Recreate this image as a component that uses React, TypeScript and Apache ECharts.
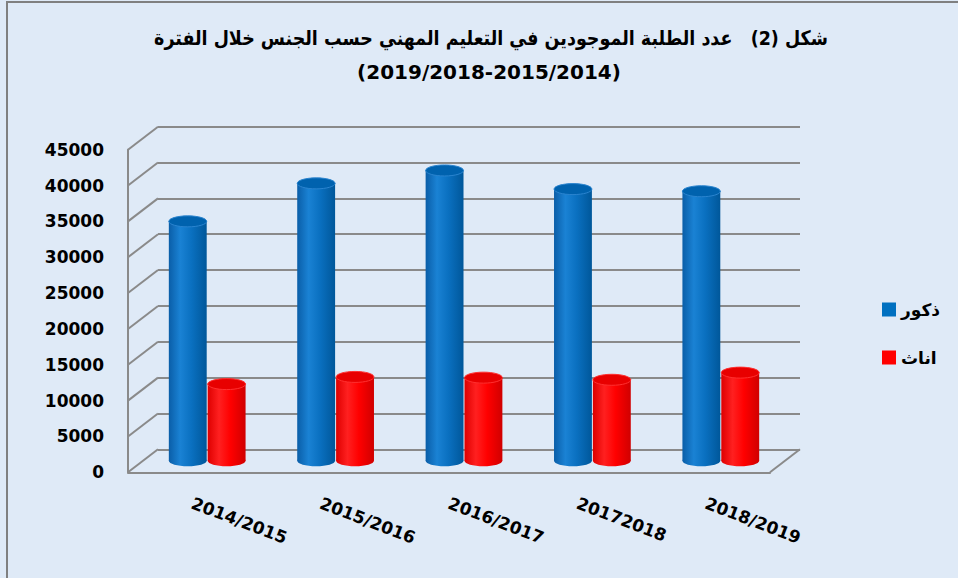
import React, { useEffect, useRef } from "react";
import * as echarts from "echarts";

// ---- data ----
const categories = ["2014/2015", "2015/2016", "2016/2017", "20172018", "2018/2019"];
const maleValues = [33400, 38700, 40500, 37900, 37600];
const femaleValues = [10700, 11700, 11600, 11300, 12300];
const seriesNames = ["ذكور", "اناث"];
const yTicks = [0, 5000, 10000, 15000, 20000, 25000, 30000, 35000, 40000, 45000];
const titleLine1 = "شكل (2)   عدد الطلبة الموجودين في التعليم المهني حسب الجنس خلال الفترة";
const titleLine2 = "(2019/2018-2015/2014)";

// ---- layout ----
const W = 958;
const H = 578;
const MID_LEFT = 143;
const MID_TOP = 138.2;
const PLOT_W = 642;
const PLOT_H = 322.6;
const DX = 15;
const DY = 11.5;
const FONT = '"DejaVu Sans", "Liberation Sans", Arial, sans-serif';
const GRID_COLOR = "#8a8a8a";

function cylinder(side: number, body: string[], topFill: string, topStroke: string) {
  return (params: any, api: any) => {
    const idx = api.value(0);
    const val = api.value(1);
    const top = api.coord([idx, val]);
    const base = api.coord([idx, 0]);
    const band = api.size([1, 0])[0];
    const w = band * 0.295;
    const cx = top[0] + side * (w / 2 + 0.5);
    const rx = w / 2;
    const ry = 5.5;
    const grad = () =>
      new echarts.graphic.LinearGradient(0, 0, 1, 0, [
        { offset: 0, color: body[0] },
        { offset: 0.3, color: body[1] },
        { offset: 0.6, color: body[2] },
        { offset: 1, color: body[3] },
      ]);
    return {
      type: "group",
      children: [
        { type: "ellipse", shape: { cx, cy: base[1], rx, ry }, style: { fill: grad() } },
        { type: "rect", shape: { x: cx - rx, y: top[1], width: w, height: base[1] - top[1] }, style: { fill: grad() } },
        { type: "ellipse", shape: { cx, cy: top[1], rx, ry }, style: { fill: topFill, stroke: topStroke, lineWidth: 1 } },
      ],
    };
  };
}

export default function App() {
  const ref = useRef<HTMLDivElement>(null);
  useEffect(() => {
    if (!ref.current) return;
    const chart = echarts.init(ref.current, null, { renderer: "svg" });
    const gridBase = { width: PLOT_W, height: PLOT_H, containLabel: false };
    const yBase = { type: "value", min: 0, max: 45000, interval: 5000 };
    const option: any = {
      animation: false,
      backgroundColor: "#dfeaf7",
      graphic: [
        {
          type: "rect",
          shape: { x: 7, y: 2, width: 1000, height: 700 },
          style: { fill: "none", stroke: "#808080", lineWidth: 2 },
          silent: true,
        },
        {
          type: "text",
          x: 491,
          y: 38,
          scaleX: 0.875,
          style: { text: titleLine1, align: "center", verticalAlign: "middle", fontSize: 20, fontWeight: "bold", fontFamily: FONT, fill: "#000" },
        },
        {
          type: "text",
          x: 489,
          y: 72,
          style: { text: titleLine2, align: "center", verticalAlign: "middle", fontSize: 20, fontWeight: "bold", fontFamily: FONT, fill: "#000" },
        },
      ],
      legend: {
        orient: "vertical",
        left: 877,
        top: 296,
        itemWidth: 14,
        itemHeight: 14,
        itemGap: 31,
        icon: "rect",
        data: seriesNames,
        textStyle: { fontSize: 17, fontWeight: "bold", fontFamily: FONT, color: "#000" },
      },
      grid: [
        { ...gridBase, left: MID_LEFT + DX, top: MID_TOP - DY },
        { ...gridBase, left: MID_LEFT, top: MID_TOP },
        { ...gridBase, left: MID_LEFT - DX, top: MID_TOP + DY },
      ],
      xAxis: [
        { gridIndex: 0, type: "category", data: categories, show: false },
        { gridIndex: 1, type: "category", data: categories, show: false },
        {
          gridIndex: 2,
          type: "category",
          data: categories,
          axisLine: { show: true, lineStyle: { color: GRID_COLOR, width: 2 } },
          axisTick: { show: false },
          axisLabel: {
            rotate: -21,
            margin: 30,
            fontSize: 17,
            fontWeight: "bold",
            fontFamily: FONT,
            color: "#000",
            interval: 0,
          },
        },
      ],
      yAxis: [
        {
          ...yBase,
          gridIndex: 0,
          axisLine: { show: false },
          axisTick: { show: false },
          axisLabel: { show: false },
          splitLine: { show: true, lineStyle: { color: GRID_COLOR, width: 2 } },
        },
        { ...yBase, gridIndex: 1, show: false, splitLine: { show: false } },
        {
          ...yBase,
          gridIndex: 2,
          axisLine: { show: true, lineStyle: { color: GRID_COLOR, width: 2 } },
          axisTick: { show: false },
          splitLine: { show: false },
          axisLabel: {
            margin: 24,
            fontSize: 17,
            fontWeight: "bold",
            fontFamily: FONT,
            color: "#000",
            formatter: (v: number) => String(v),
          },
        },
      ],
      series: [
        {
          type: "custom",
          name: "walls",
          xAxisIndex: 0,
          yAxisIndex: 0,
          clip: false,
          silent: true,
          z: 1,
          data: yTicks.map((v) => [0, v]),
          renderItem: (params: any, api: any) => {
            const y = api.coord([0, api.value(1)])[1];
            const cs = params.coordSys;
            const children: any[] = [
              {
                type: "line",
                shape: { x1: cs.x, y1: y, x2: cs.x - 2 * DX, y2: y + 2 * DY },
                style: { stroke: GRID_COLOR, lineWidth: 2 },
              },
            ];
            if (api.value(1) === 0) {
              children.push({
                type: "line",
                shape: { x1: cs.x + cs.width, y1: y, x2: cs.x + cs.width - 2 * DX, y2: y + 2 * DY },
                style: { stroke: GRID_COLOR, lineWidth: 2 },
              });
            }
            return { type: "group", children };
          },
        },
        {
          type: "custom",
          name: seriesNames[0],
          xAxisIndex: 1,
          yAxisIndex: 1,
          clip: false,
          z: 3,
          itemStyle: { color: "#0070c0" },
          data: maleValues.map((v, i) => [i, v]),
          encode: { x: 0, y: 1 },
          renderItem: cylinder(-1, ["#0a5ea8", "#1a82d4", "#0a70c0", "#00579a"], "#0062ae", "#2a84cf"),
        },
        {
          type: "custom",
          name: seriesNames[1],
          xAxisIndex: 1,
          yAxisIndex: 1,
          clip: false,
          z: 3,
          itemStyle: { color: "#ff0000" },
          data: femaleValues.map((v, i) => [i, v]),
          encode: { x: 0, y: 1 },
          renderItem: cylinder(1, ["#de0000", "#ff2020", "#ff0000", "#d00000"], "#e80000", "#ff3030"),
        },
      ],
    };
    chart.setOption(option);
    return () => chart.dispose();
  }, []);
  return <div ref={ref} style={{ position: "fixed", left: 0, top: 0, width: W, height: H }} />;
}
